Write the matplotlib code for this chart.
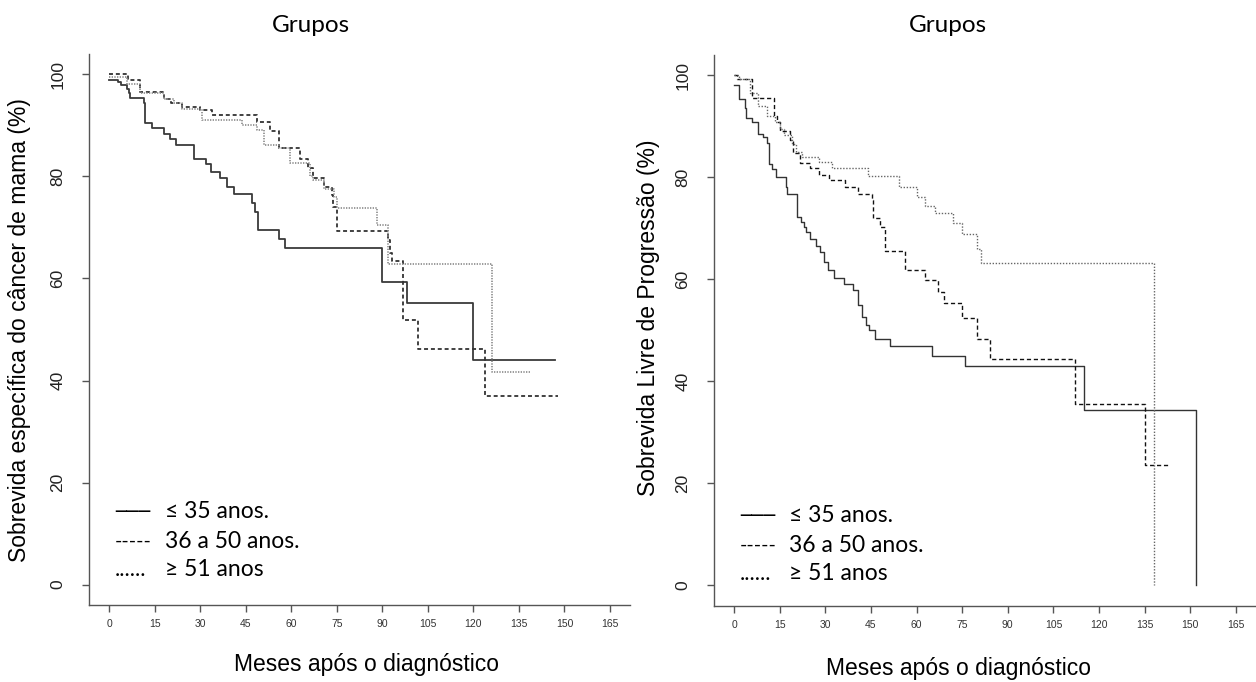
import matplotlib
matplotlib.use("Agg")
import matplotlib.pyplot as plt

# ---------------- data ----------------
x_ticks = [0, 15, 30, 45, 60, 75, 90, 105, 120, 135, 150, 165]
y_ticks = [0, 20, 40, 60, 80, 100]
legend_labels = ["\u2264 35 anos.", "36 a 50 anos.", "\u2265 51 anos"]
legend_symbols = ["\u2500\u2500\u2500", "-----", "......"]

# Left panel: Sobrevida especifica do cancer de mama
left_t_35 = [0, 3, 4, 6, 6.5, 7, 11.5, 12, 14, 18, 20, 22, 28, 32, 33.5, 36.5, 39, 41,
             47, 48, 49, 56, 58, 90, 98, 120, 147]
left_s_35 = [99.0, 98.5, 98.0, 97.2, 96.4, 95.3, 94.3, 90.4, 89.4, 88.4, 87.4, 86.1, 83.5,
             82.4, 80.9, 79.6, 78.0, 76.5, 74.7, 73.0, 69.6, 67.8, 66.0, 59.4, 55.2, 44.1, 44.1]

left_t_36_50 = [0, 6.4, 10.2, 18, 20.3, 24.1, 30.1, 33.9, 48.7, 52.9, 56.1, 63, 65.7, 67.3,
                70.8, 73.3, 73.9, 75, 92, 92.5, 93.2, 96.9, 101.8, 123.9, 148]
left_s_36_50 = [100, 99.0, 96.6, 95.1, 94.3, 93.6, 93.0, 92.0, 90.7, 89.0, 85.6, 83.4, 81.6,
                79.6, 77.9, 76.3, 74.0, 69.3, 67.6, 65.0, 63.4, 51.9, 46.1, 36.9, 36.9]

left_t_51 = [0, 5.8, 10.2, 18, 21.4, 24.1, 30.7, 43.8, 48.7, 50.9, 56.1, 59.7, 66.3, 67.3,
             70.8, 74, 75.2, 88.1, 92, 126.1, 139]
left_s_51 = [99.5, 98.2, 96.3, 95.2, 94.3, 93.3, 91.0, 90.0, 89.2, 86.1, 85.6, 82.6, 80.0,
             79.3, 77.5, 76.0, 73.8, 70.4, 62.8, 41.7, 41.7]

# Right panel: Sobrevida livre de progressao
right_t_35 = [0, 1.75, 3.6, 3.95, 5.8, 8.0, 9.6, 10.75, 11.6, 12.6, 13.8, 17.0, 17.5, 20.8,
              22.0, 23.0, 23.6, 25.0, 26.9, 28.3, 29.7, 31.0, 33.0, 36.0, 39.0, 40.9, 42.0,
              43.3, 44.2, 46.2, 51.3, 65.1, 76.0, 115.2, 152.0]
right_s_35 = [98.2, 95.4, 93.6, 91.7, 90.9, 88.6, 88.0, 86.8, 82.7, 81.7, 80.0, 78.2, 76.7,
              72.3, 71.3, 70.3, 69.3, 67.9, 66.6, 65.4, 63.5, 61.8, 60.2, 59.0, 57.9, 55.0,
              52.7, 51.1, 50.1, 48.4, 46.9, 45.0, 43.0, 34.4, 0]

right_t_36_50 = [0, 0.9, 5.8, 13.2, 14.0, 15.1, 18.4, 19.3, 21.7, 25.0, 27.8, 31.3, 36.5,
                 40.9, 45.3, 45.8, 48.0, 49.7, 56.3, 62.8, 67.0, 68.9, 74.9, 80.0, 84.1,
                 112.1, 135.1, 142.8]
right_s_36_50 = [100, 99.3, 95.6, 92.0, 90.9, 89.0, 87.4, 84.7, 82.8, 81.8, 80.5, 79.5, 78.2,
                 76.7, 75.6, 72.0, 70.3, 65.5, 61.8, 59.9, 57.6, 55.3, 52.5, 48.3, 44.3,
                 35.5, 23.6, 23.6]

right_t_51 = [0, 1.5, 5.3, 8, 10.7, 13.5, 15.0, 16.5, 19.0, 20.5, 22.3, 27.8, 32.2, 43.9,
              54.1, 60.1, 62.8, 66.1, 71.9, 74.9, 80.0, 81.1, 137.9]
right_s_51 = [100, 99.3, 96.6, 94.0, 92.0, 90.9, 89.5, 88.3, 86.5, 85.0, 84.0, 83.1, 81.8,
              80.2, 78.2, 76.2, 74.3, 73.0, 71.1, 68.9, 65.9, 63.2, 0]

# ---------------- figure ----------------
W, H = 1256, 682
fig = plt.figure(figsize=(W / 100, H / 100), dpi=100)
fig.patch.set_facecolor("white")

axis_font = "Liberation Sans"
cal_font = ["Lato", "DejaVu Sans"]


def px_rect(x0, y0, x1, y1):
    return [x0 / W, 1 - y1 / H, (x1 - x0) / W, (y1 - y0) / H]


def setup(ax):
    ax.set_xlim(-6.6, 171.6)
    ax.set_ylim(-4, 104)
    for s in ("top", "right"):
        ax.spines[s].set_visible(False)
    for s in ("left", "bottom"):
        ax.spines[s].set_color("#555555")
        ax.spines[s].set_linewidth(1.0)
    ax.set_xticks(x_ticks)
    ax.set_xticklabels([str(v) for v in x_ticks], fontsize=7.5, color="#333333",
                       family=axis_font)
    ax.set_yticks(y_ticks)
    ax.set_yticklabels([str(v) for v in y_ticks], fontsize=12.5, color="#222222",
                       family=axis_font, rotation=90, va="center")
    ax.tick_params(axis="x", length=5, width=1, color="#555555", pad=5)
    ax.tick_params(axis="y", length=5, width=1, color="#555555", pad=12)


# Left axes
axL = fig.add_axes(px_rect(89, 54, 630, 605))
setup(axL)
axL.step(left_t_35, left_s_35, where="post", color="#3a3a3a", lw=1.3)
axL.step(left_t_36_50, left_s_36_50, where="post", color="#333333", lw=1.3,
         linestyle=(0, (2.2, 1.6)))
axL.step(left_t_51, left_s_51, where="post", color="#8a8a8a", lw=1.2,
         linestyle=(0, (0.8, 0.8)))

# Right axes
axR = fig.add_axes(px_rect(714, 55, 1256, 605.7))
setup(axR)
axR.step(right_t_35, right_s_35, where="post", color="#333333", lw=1.0)
axR.step(right_t_36_50, right_s_36_50, where="post", color="#111111", lw=1.0,
         linestyle=(0, (3, 2)))
axR.step(right_t_51, right_s_51, where="post", color="#666666", lw=1.0,
         linestyle=(0, (1, 1.2)))

# Titles
fig.text(311 / W, 1 - 25 / H, "Grupos", family=cal_font, fontsize=17.5,
         ha="center", va="center")
fig.text(948 / W, 1 - 25 / H, "Grupos", family=cal_font, fontsize=17.5,
         ha="center", va="center")

# Axis labels
fig.text(20 / W, 1 - 330 / H, "Sobrevida específica do câncer de mama (%)",
         family=axis_font, fontsize=16.5, rotation=90, ha="center", va="center")
fig.text(648 / W, 1 - 318 / H, "Sobrevida Livre de Progressão (%)",
         family=axis_font, fontsize=16.5, rotation=90, ha="center", va="center")
fig.text(366 / W, 1 - 665 / H, "Meses após o diagnóstico",
         family=axis_font, fontsize=16.5, ha="center", va="center")
fig.text(958 / W, 1 - 668 / H, "Meses após o diagnóstico",
         family=axis_font, fontsize=16.5, ha="center", va="center")

# Legends (text-based, as in the original)
sym_fonts = [["DejaVu Sans"], cal_font, cal_font]
sym_sizes = [14, 14, 16]
sym_dy = [2, 0, 0]
for (sx, tx, ys) in [(115, 165, [511, 541, 570]), (740, 789, [515, 545, 574])]:
    for sym, lab, y, sf, ss, dy in zip(legend_symbols, legend_labels, ys, sym_fonts,
                                       sym_sizes, sym_dy):
        fig.text(sx / W, 1 - (y + dy) / H, sym, family=sf, fontsize=ss,
                 ha="left", va="center")
        fig.text(tx / W, 1 - y / H, lab, family=cal_font, fontsize=16.5,
                 ha="left", va="center")

fig.savefig("out.png", dpi=100, facecolor="white")
